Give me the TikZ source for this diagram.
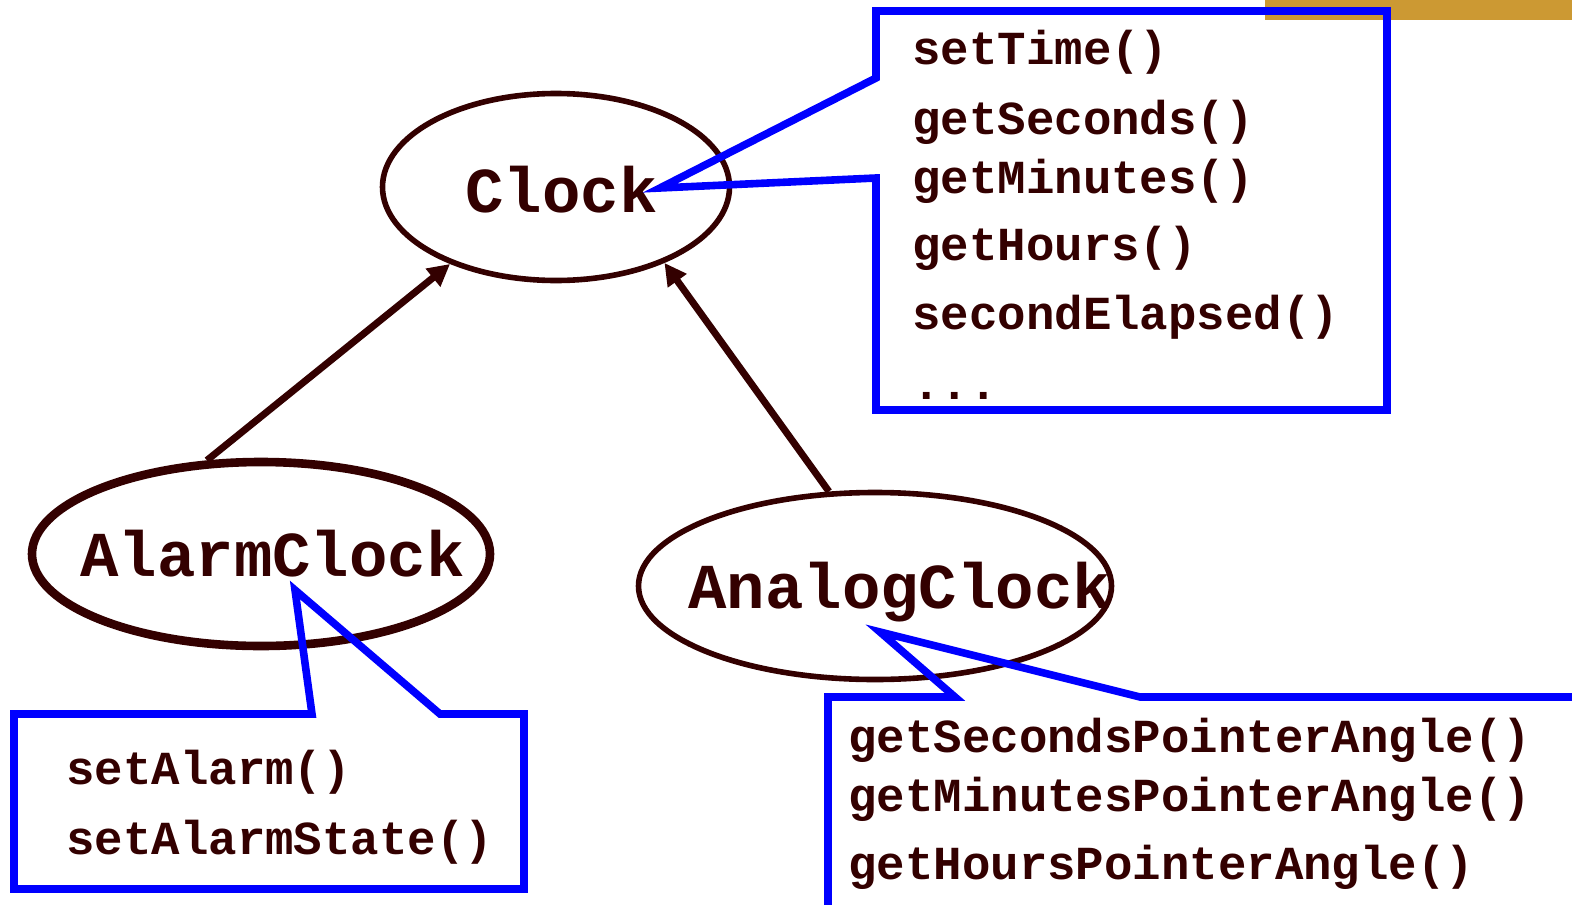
\documentclass[tikz,border=0pt]{standalone}
\usepackage{fontspec}
\setmonofont{Liberation Mono}
\usetikzlibrary{arrows.meta, shapes.geometric}
\definecolor{classbrown}{RGB}{51,0,0}
\definecolor{calloutblue}{RGB}{0,0,255}
\definecolor{barorange}{RGB}{204,153,51}
\tikzset{
    classnode/.style={
        ellipse, draw=classbrown, line width=2.8pt, inner sep=0pt
    },
    classname/.style={
        anchor=base west, inner sep=0pt, text=classbrown,
        font=\fontsize{32}{36}\selectfont\ttfamily\bfseries
    },
    method/.style={
        anchor=base west, inner sep=0pt, text=classbrown,
        font=\fontsize{23.7}{28}\selectfont\ttfamily\bfseries
    },
    callout/.style={draw=calloutblue, line width=3.8pt, line join=miter},
    inherit/.style={draw=classbrown, line width=3.5pt, -{Triangle[length=11pt, width=11pt]}}
}
\begin{document}
\begin{tikzpicture}[x=0.5pt, y=-0.5pt]
\useasboundingbox (0,0) rectangle (1572,904);

% Corner bar
\fill[barorange] (1265,0) rectangle (1572,20);

% Classes
\node[classnode, minimum width=173.5pt, minimum height=93.5pt] (clock) at (556,187) {};
\node[classnode, line width=4.3pt, minimum width=229pt, minimum height=92pt] (alarm) at (261,554) {};
\node[classnode, minimum width=236.5pt, minimum height=93.5pt] (analog) at (875,586) {};

\node[classname] (clocktext) at (465,212) {Clock};
\node[classname] (alarmtext) at (80,576) {AlarmClock};
\node[classname] (analogtext) at (688,608) {AnalogClock};

% Inheritance
\draw[inherit] (alarm.120) -- (clock.216);
\draw[inherit] (analog.116) -- (clock.-35);

% Clock methods
\node[method] (settime) at (912,65) {setTime()};
\node[method] (getsec) at (912,134) {getSeconds()};
\node[method] (getmin) at (912,193) {getMinutes()};
\node[method] (gethour) at (912,260) {getHours()};
\node[method] (elapsed) at (912,329) {secondElapsed()};
\node[method] (more) at (912,399) {...};

% AlarmClock methods
\node[method] (setalarm) at (66,784) {setAlarm()};
\node[method] (setstate) at (66,854) {setAlarmState()};

% AnalogClock methods
\node[method] (secangle) at (848,752) {getSecondsPointerAngle()};
\node[method] (minangle) at (848,811) {getMinutesPointerAngle()};
\node[method] (hourangle) at (848,879) {getHoursPointerAngle()};

% Callouts
\draw[callout] (876,78) -- (876,11) -- (1387,11) -- (1387,410) -- (876,410) -- (876,178) -- (660,188) -- cycle;
\draw[callout] (312,714) -- (14,714) -- (14,889) -- (524,889) -- (524,714) -- (440,714) -- (295,590) -- cycle;
\draw[callout] (828,920) -- (828,697) -- (955,697) -- (880,632) -- (1140,697) -- (1590,697);

\end{tikzpicture}
\end{document}
